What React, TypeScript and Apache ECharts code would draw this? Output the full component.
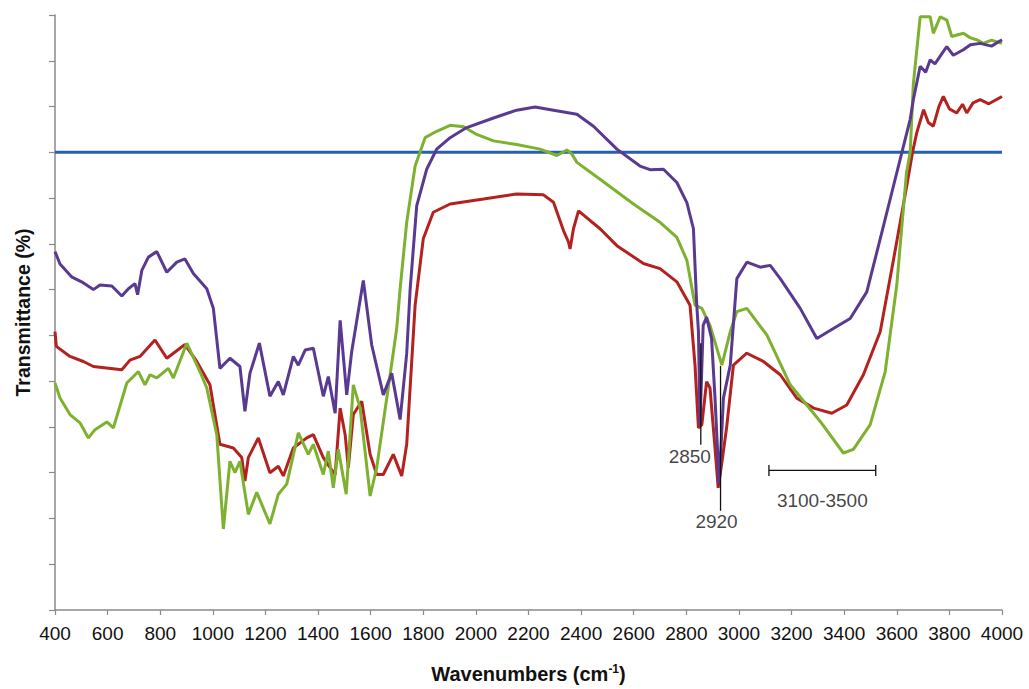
import React, { useEffect, useRef } from "react";
import * as echarts from "echarts";

// ---- Data (wavenumber cm-1 / transmittance, arbitrary % scale) ----
const purpleX = [400, 419, 463, 501, 546, 571, 616, 654, 679, 704, 714, 730, 755, 787, 825, 863, 894, 926, 977, 1002, 1027, 1065, 1103, 1122, 1141, 1177, 1217, 1249, 1268, 1306, 1325, 1351, 1382, 1420, 1439, 1465, 1484, 1509, 1528, 1572, 1604, 1648, 1680, 1712, 1737, 1750, 1775, 1813, 1851, 1902, 1965, 2067, 2155, 2225, 2295, 2384, 2447, 2536, 2624, 2662, 2713, 2764, 2802, 2827, 2839, 2846, 2852, 2864, 2877, 2896, 2909, 2925, 2941, 2967, 2992, 3030, 3081, 3119, 3157, 3233, 3296, 3359, 3423, 3486, 3537, 3575, 3613, 3651, 3663, 3689, 3710, 3727, 3745, 3765, 3790, 3815, 3853, 3880, 3917, 3960, 4000];
const purpleY = [78.3, 75.6, 72.8, 71.7, 70, 71, 70.8, 68.6, 70.2, 71.3, 68.9, 74.2, 77.1, 78.3, 73.8, 76, 76.7, 73.5, 70.2, 65.9, 52.8, 55, 53.2, 43.4, 51.7, 58.3, 46.7, 49.9, 47, 55.4, 53.5, 56.8, 57.2, 46.7, 51, 43, 63.3, 47, 56.5, 72, 57.9, 47, 51.7, 41.6, 56, 70, 88.3, 96.3, 100.7, 103.2, 105.4, 107.5, 109.2, 109.9, 109.2, 108.3, 105.7, 100.7, 97, 96.2, 96.3, 93.4, 89, 83.3, 67.3, 60.9, 40.5, 62.2, 64, 59.3, 46.3, 27.5, 46.3, 53.5, 72.4, 76, 74.9, 75.3, 72.4, 65.9, 59.3, 61.5, 63.7, 69.5, 81.1, 89.8, 98.5, 107.2, 111.5, 118.8, 117.5, 120.2, 119.3, 121, 123.1, 121.2, 122.4, 123.5, 123.8, 123.2, 124.6];

const redX = [400, 405, 457, 508, 546, 654, 685, 723, 780, 825, 894, 939, 989, 1027, 1078, 1110, 1122, 1135, 1173, 1217, 1249, 1268, 1306, 1357, 1382, 1420, 1446, 1465, 1484, 1503, 1515, 1534, 1566, 1598, 1623, 1648, 1686, 1718, 1737, 1769, 1800, 1838, 1902, 2029, 2155, 2257, 2295, 2333, 2352, 2358, 2371, 2390, 2472, 2536, 2637, 2700, 2764, 2814, 2833, 2846, 2859, 2877, 2890, 2909, 2921, 2934, 2953, 2979, 3030, 3093, 3157, 3220, 3284, 3353, 3410, 3473, 3537, 3588, 3638, 3660, 3676, 3702, 3720, 3739, 3760, 3777, 3800, 3828, 3850, 3866, 3890, 3917, 3950, 4000];
const redY = [60.8, 57.6, 55.4, 54.3, 53.2, 52.5, 54.6, 55.4, 59, 55, 58, 54.3, 49.2, 36.2, 35.4, 33.3, 28.2, 33.3, 37.6, 30, 31.4, 29.3, 35.4, 37.6, 38.3, 33.3, 31.1, 29.6, 44.1, 38.3, 31.1, 42.7, 45.6, 34, 29.6, 29.6, 34, 29.3, 36.2, 66.6, 81.1, 86.9, 88.7, 89.8, 90.9, 90.7, 89.1, 82.9, 80.4, 78.9, 83.3, 87.2, 83.3, 79.6, 75.7, 74.6, 71.7, 66.6, 53.5, 39.8, 40.5, 49.9, 48.5, 35.4, 26.7, 31.8, 39.8, 53.5, 56.1, 54.3, 51.4, 46.3, 44.1, 43, 44.8, 51.4, 60.8, 76.7, 92.7, 100, 104.3, 109.3, 106.5, 105.7, 110, 112.2, 109.5, 108.6, 110.5, 108.6, 110.8, 111.5, 110.6, 112.2];

const greenX = [400, 419, 457, 495, 527, 552, 597, 622, 673, 717, 742, 761, 787, 831, 850, 901, 951, 977, 1015, 1040, 1065, 1084, 1103, 1135, 1167, 1217, 1249, 1281, 1325, 1363, 1382, 1420, 1439, 1458, 1477, 1507, 1534, 1560, 1598, 1623, 1674, 1699, 1712, 1737, 1769, 1807, 1851, 1902, 1953, 2003, 2067, 2155, 2244, 2308, 2346, 2365, 2384, 2472, 2599, 2700, 2764, 2802, 2833, 2859, 2890, 2935, 2967, 2992, 3030, 3106, 3195, 3309, 3397, 3435, 3499, 3556, 3600, 3637, 3651, 3663, 3689, 3710, 3727, 3739, 3765, 3790, 3809, 3853, 3880, 3904, 3929, 3960, 4000];
const greenY = [49.6, 46.3, 42.7, 40.9, 37.6, 39.4, 41.1, 39.8, 49.6, 52.1, 49.2, 51.4, 50.7, 52.8, 50.7, 58.3, 52.1, 48.5, 38.3, 17.7, 32.5, 30, 32.5, 20.9, 25.7, 18.8, 25.3, 27.5, 38.7, 34, 36.2, 29.6, 34.7, 26.7, 35.1, 25.3, 49.2, 44.1, 24.9, 31.1, 51.4, 61.5, 70.2, 84.7, 97, 103.2, 104.6, 105.9, 105.6, 103.9, 102.5, 101.7, 100.7, 99.3, 100.5, 99.6, 97.8, 94.1, 88.7, 84.7, 81.4, 76.4, 66.6, 65.9, 62.2, 53.5, 60.8, 65.2, 65.9, 60.1, 49.2, 41.2, 34.3, 35.1, 40.5, 52.1, 71, 95.6, 100, 115, 129.6, 129.6, 129.6, 126, 129.6, 128.9, 125.3, 126, 125, 124.6, 123.8, 124.5, 123.8];

const referenceX = [400, 4000];
const referenceY = [100, 100];

// annotations (data coordinates)
const ann2850X = [2855, 2855];
const ann2850Y = [58.3, 36.1];
const ann2920X = [2930, 2930];
const ann2920Y = [53.3, 21.7];
const rangeX = [3114, 3520];
const rangeY = 30.5;
const rangeCap = 1.2;

const xMin = 400;
const xMax = 4000;
const xStep = 200;
const yMin = 0;
const yMax = 130;
const yStep = 10;

const zip = (xs: number[], ys: number[]) => xs.map((x, i) => [x, ys[i]]);

const FONT = "'Liberation Sans', Arial, sans-serif";

export default function App() {
  const ref = useRef<HTMLDivElement>(null);
  useEffect(() => {
    if (!ref.current) return;
    const chart = echarts.init(ref.current, undefined, { renderer: "svg" });
    const blackLine = { color: "#111", width: 1.3 };
    const segment = (xs: number[], ys: number[]) => ({
      type: "line",
      data: zip(xs, ys),
      symbol: "none",
      lineStyle: blackLine,
      silent: true,
      z: 5,
    });
    const textAt = (x: number, y: number, text: string, dx: number, dist: number) => ({
      type: "scatter",
      data: [[x, y]],
      symbolSize: 0,
      silent: true,
      z: 6,
      label: {
        show: true,
        position: "bottom",
        distance: dist,
        offset: [dx, 0],
        formatter: text,
        fontSize: 19,
        fontFamily: FONT,
        color: "#111",
      },
    });
    chart.setOption({
      animation: false,
      backgroundColor: "#fff",
      grid: { left: 55, right: 27, top: 15, bottom: 76, containLabel: false },
      xAxis: {
        type: "value",
        min: xMin,
        max: xMax,
        interval: xStep,
        name: "{b|Wavenumbers (cm}{s|-1}{b|)}",
        nameLocation: "middle",
        nameGap: 53,
        nameTextStyle: {
          rich: {
            b: { fontSize: 20, fontWeight: "bold", fontFamily: FONT, color: "#111", lineHeight: 22 },
            s: { fontSize: 12, fontWeight: "bold", fontFamily: FONT, color: "#111", lineHeight: 12, verticalAlign: "top" },
          },
        },
        axisLine: { show: true, onZero: false, lineStyle: { color: "#8a8a8a", width: 1.5 } },
        axisTick: { show: true, length: 5, lineStyle: { color: "#8a8a8a", width: 1.2 } },
        axisLabel: {
          fontSize: 19,
          fontFamily: FONT,
          color: "#111",
          margin: 14,
          formatter: (v: number) => String(v),
        },
        splitLine: { show: false },
      },
      yAxis: {
        type: "value",
        min: yMin,
        max: yMax,
        interval: yStep,
        name: "Transmittance (%)",
        nameLocation: "middle",
        nameRotate: 90,
        nameGap: 22,
        nameTextStyle: { fontSize: 19.5, fontWeight: "bold", fontFamily: FONT, color: "#111" },
        axisLine: { show: true, onZero: false, lineStyle: { color: "#8a8a8a", width: 1.5 } },
        axisTick: { show: true, length: 6, lineStyle: { color: "#8a8a8a", width: 1.2 } },
        axisLabel: { show: false },
        splitLine: { show: false },
      },
      series: [
        {
          name: "reference",
          type: "line",
          data: zip(referenceX, referenceY),
          symbol: "none",
          lineStyle: { color: "#2361B5", width: 3 },
          z: 2,
        },
        {
          name: "red",
          type: "line",
          data: zip(redX, redY),
          symbol: "none",
          lineStyle: { color: "#B3221F", width: 3 },
          z: 3,
        },
        {
          name: "green",
          type: "line",
          data: zip(greenX, greenY),
          symbol: "none",
          lineStyle: { color: "#7DB12F", width: 3 },
          z: 3,
        },
        {
          name: "purple",
          type: "line",
          data: zip(purpleX, purpleY),
          symbol: "none",
          lineStyle: { color: "#5A3990", width: 3 },
          z: 4,
        },
        segment(ann2850X, ann2850Y),
        segment(ann2920X, ann2920Y),
        textAt(ann2850X[1], ann2850Y[1], "2850", -11, 2),
        textAt(ann2920X[1], ann2920Y[1], "2920", -4, 1),
        segment(rangeX, [rangeY, rangeY]),
        segment([rangeX[0], rangeX[0]], [rangeY + rangeCap, rangeY - rangeCap]),
        segment([rangeX[1], rangeX[1]], [rangeY + rangeCap, rangeY - rangeCap]),
        textAt((rangeX[0] + rangeX[1]) / 2, rangeY, "3100-3500", 0, 21),
      ],
    });
    return () => chart.dispose();
  }, []);
  return <div ref={ref} style={{ width: 1029, height: 689, position: "absolute", left: 0, top: 0 }} />;
}
